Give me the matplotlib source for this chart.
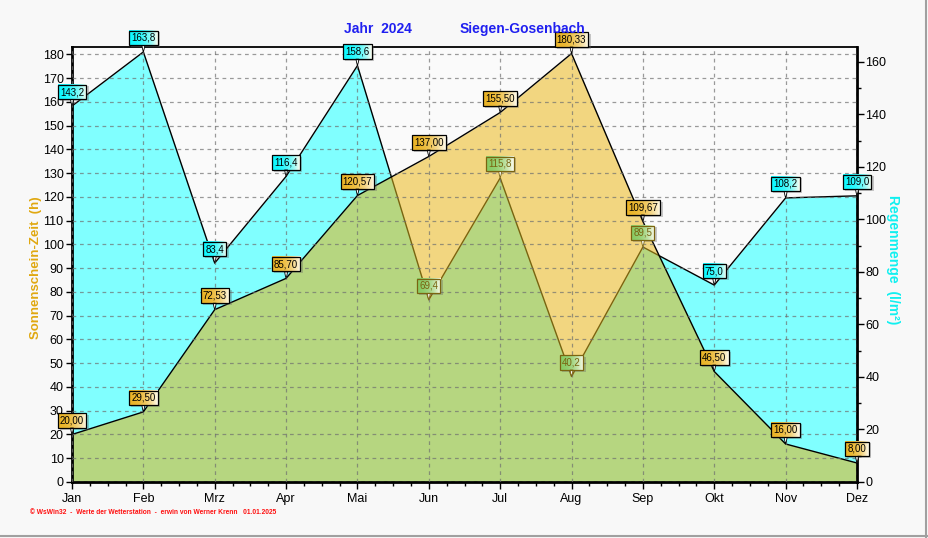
import numpy as np
import matplotlib
matplotlib.use('Agg')
import matplotlib.pyplot as plt
from matplotlib.patches import Polygon
from matplotlib.lines import Line2D
from matplotlib.image import BboxImage
from matplotlib.colors import to_rgb
from matplotlib.ticker import MultipleLocator

months = ['Jan', 'Feb', 'Mrz', 'Apr', 'Mai', 'Jun', 'Jul', 'Aug', 'Sep', 'Okt', 'Nov', 'Dez']
sun = [20.00, 29.50, 72.53, 85.70, 120.57, 137.00, 155.50, 180.33, 109.67, 46.50, 16.00, 8.00]
rain = [143.2, 163.8, 83.4, 116.4, 158.6, 69.4, 115.8, 40.2, 89.5, 75.0, 108.2, 109.0]

SUN_TOP = 183.2
RAIN_TOP = 165.8

C_CYAN = '#80ffff'
C_ORANGE = '#f2d680'
C_GREEN = '#b6d680'
C_OLIVE = '#7a6410'
BG = '#f8f8f8'

plt.rcParams['font.family'] = ['Liberation Sans', 'DejaVu Sans']

fig = plt.figure(figsize=(9.29, 5.38), dpi=100, facecolor=BG)
ax = fig.add_axes([72/929, 1-482/538, 785/929, (482-46.7)/538])
ax.set_facecolor('#fafafa')

k = SUN_TOP / RAIN_TOP
x = np.arange(len(months))
s = np.array(sun)
r = np.array(rain) * k

# overlap region (below both curves)
ox, oy = [], []
for i in range(len(x)):
    if i > 0:
        d0 = s[i-1] - r[i-1]
        d1 = s[i] - r[i]
        if d0 * d1 < 0:
            t = d0 / (d0 - d1)
            ox.append(x[i-1] + t)
            oy.append(s[i-1] + t * (s[i] - s[i-1]))
    ox.append(x[i])
    oy.append(min(s[i], r[i]))

ax.fill_between(x, 0, r, color=C_CYAN, lw=0, zorder=1)
ax.plot(x, r, color='black', lw=1, zorder=1.2)
ax.fill_between(x, 0, s, color=C_ORANGE, lw=0, zorder=1.4)
ax.fill_between(ox, 0, oy, color=C_GREEN, lw=0, zorder=1.5)

sun_poly = Polygon(np.column_stack([np.r_[x[0], x, x[-1]], np.r_[0, s, 0]]),
                   closed=True, transform=ax.transData)
rl, = ax.plot(x, r, color=C_OLIVE, lw=1, zorder=1.6)
rl.set_clip_path(sun_poly)
ax.plot(x, s, color='black', lw=1, zorder=1.8)

ax.set_xlim(0, len(months) - 1)
ax.set_ylim(0, SUN_TOP)
ax.set_xticks(x)
ax.set_xticklabels(months, fontsize=9)
ax.xaxis.set_minor_locator(MultipleLocator(0.25))
ax.yaxis.set_major_locator(MultipleLocator(10))
ax.tick_params(axis='y', labelsize=9, length=4, width=1, pad=2)
ax.tick_params(axis='x', which='major', length=5, width=1, pad=3)
ax.tick_params(axis='x', which='minor', length=3, width=1)
ax.set_axisbelow(False)
ax.grid(True, which='major', color='#707070', ls=(0, (3, 3)), lw=0.9, alpha=0.7)
ax.grid(False, which='minor')

for side in ['left', 'right', 'bottom']:
    ax.spines[side].set_linewidth(2)
ax.spines['top'].set_linewidth(1.3)

ax2 = ax.twinx()
ax2.set_ylim(0, RAIN_TOP)
ax2.yaxis.set_major_locator(MultipleLocator(20))
ax2.yaxis.set_minor_locator(MultipleLocator(10))
ax2.tick_params(axis='y', which='major', labelsize=9, length=5, width=1, pad=1)
ax2.tick_params(axis='y', which='minor', length=3, width=1)
for side in ['left', 'right', 'bottom', 'top']:
    ax2.spines[side].set_visible(False)


def box_extent(txt, dx=0, dy=0):
    def f(renderer):
        txt.update_positions(renderer)
        txt.update_bbox_position_size(renderer)
        return txt.get_bbox_patch().get_window_extent(renderer).translated(dx, dy)
    return f


def gradient(color):
    c = np.array(to_rgb(color))
    w = np.array([1.0, 0.99, 0.94])
    t = np.linspace(0, 1, 64) ** 2.2
    row = c[None, :] * (1 - t[:, None]) + w[None, :] * t[:, None]
    return row[None, :, :]


def label(xi, yi, txt, fc, ec, tc):
    a = ax.annotate(txt, (xi, yi), xytext=(0, 6.5), textcoords='offset points',
                    ha='center', va='bottom', fontsize=7, color=tc, zorder=10,
                    bbox=dict(boxstyle='square,pad=0.22', fc='none', ec=ec, lw=0.9),
                    arrowprops=dict(arrowstyle='wedge,tail_width=0.3,shrink_factor=0.6',
                                    fc='white', ec=ec, lw=0.6, shrinkA=0, shrinkB=0),
                    annotation_clip=False)
    sh = BboxImage(box_extent(a, 2, -2), zorder=8.8)
    sh.set_data(np.full((1, 1, 4), [0.4, 0.4, 0.4, 0.35]))
    sh.set_clip_on(False)
    ax.add_artist(sh)
    im = BboxImage(box_extent(a), zorder=9, interpolation='bilinear')
    im.set_data(gradient(fc))
    im.set_clip_on(False)
    ax.add_artist(im)


for i in range(len(x)):
    label(x[i], s[i], f'{sun[i]:.2f}'.replace('.', ','), '#eab428', 'black', 'black')
    if r[i] < s[i]:
        label(x[i], r[i], f'{rain[i]:.1f}'.replace('.', ','), '#8acb64', C_OLIVE, C_OLIVE)
    else:
        label(x[i], r[i], f'{rain[i]:.1f}'.replace('.', ','), '#10f8ff', 'black', 'black')

fig.text(378/929, 1-29/538, 'Jahr  2024', color='#2020f0', fontsize=10,
         fontweight='bold', ha='center', va='center')
fig.text(522/929, 1-29/538, 'Siegen-Gosenbach', color='#2020f0', fontsize=10,
         fontweight='bold', ha='center', va='center')
fig.text(36/929, 1-268/538, 'Sonnenschein-Zeit  (h)', color='#e0a810',
         fontsize=9.5, fontweight='bold', rotation=90, ha='center', va='center')
fig.text(893/929, 1-260/538, 'Regenmenge  (l/m²)', color='#10f0f0',
         fontsize=10, fontweight='bold', rotation=-90, ha='center', va='center')
fig.text(30/929, 1-513/538,
         '© WsWin32  -  Werte der Wetterstation  -  erwin von Werner Krenn   01.01.2025',
         color='#ff1010', fontsize=4.8, fontweight='bold', ha='left', va='center')

fig.add_artist(Line2D([926/929, 926/929], [0, 1], transform=fig.transFigure, color='#a0a0a0', lw=1.5))
fig.add_artist(Line2D([0, 1], [1-536/538, 1-536/538], transform=fig.transFigure, color='#a0a0a0', lw=1.5))

fig.savefig('out.png', dpi=100, facecolor=BG)
